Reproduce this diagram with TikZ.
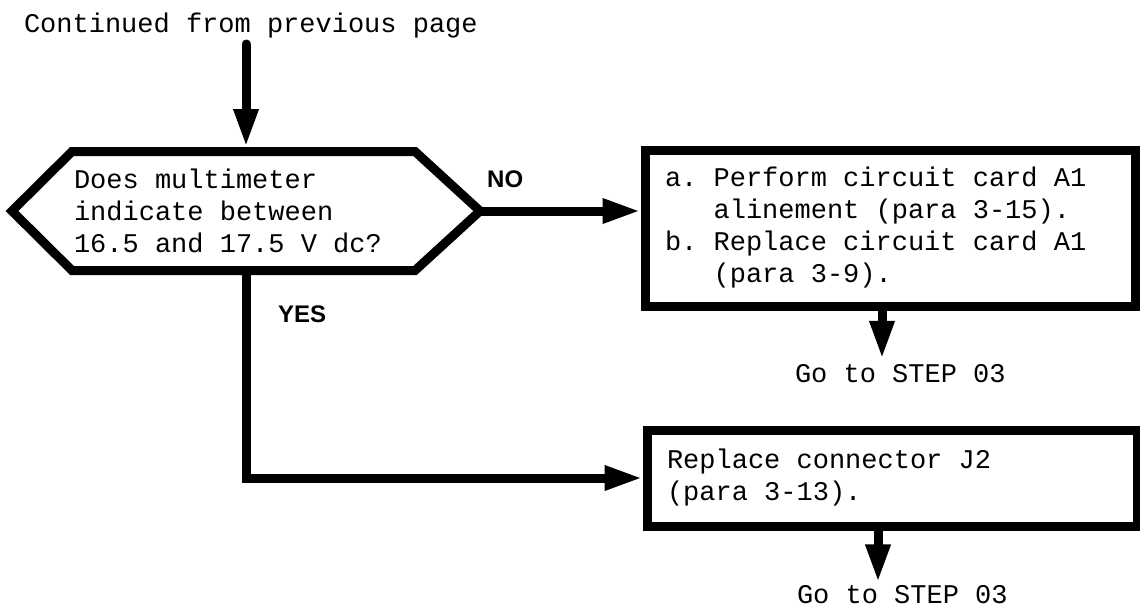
\documentclass[tikz,border=0pt]{standalone}
\usepackage{fontspec}
\usetikzlibrary{arrows.meta,calc}
\newfontfamily\monofnt{Liberation Mono}
\newfontfamily\labfnt{Liberation Sans}
\newcommand{\fixsp}{\spaceskip=0pt\xspaceskip=0pt\frenchspacing}
\tikzset{
  txt/.style={font=\monofnt\fontsize{27}{32}\selectfont, inner sep=0pt, outer sep=0pt},
  lab/.style={font=\labfnt\bfseries\fontsize{24}{28}\selectfont, inner sep=0pt},
  boxnode/.style={txt, draw=black, line width=9pt, line join=miter, align=left,
    text width=450pt, inner xsep=20pt, inner ysep=0pt, outer sep=4.5pt},
  outline/.style={draw=black, line width=9pt, line join=miter},
  flow/.style={draw=black, line width=9pt, line join=miter,
    -{Triangle[length=38pt,width=23pt]}},
}
\begin{document}
\begin{tikzpicture}[x=1pt,y=-1pt]
\useasboundingbox (0,0) rectangle (1140,611);
% top text
\node[txt, anchor=base west] (top) at (24,32) {Continued from previous page};
\coordinate (c0) at (246,44);
% decision hexagon
\node[txt, align=left, text width=344pt, minimum width=468pt, minimum height=119pt]
  (q) at (246,211) {\fixsp Does multimeter\\\fixsp indicate between\\\fixsp 16.5 and 17.5 V dc?};
\draw[outline] (q.west) -- ([xshift=60pt]q.north west) -- ([xshift=-65pt]q.north east)
  -- (q.east) -- ([xshift=-65pt]q.south east) -- ([xshift=60pt]q.south west) -- cycle;
% boxes
\node[boxnode, minimum width=490pt, minimum height=156pt] (b1) at (890,228)
  {\fixsp a. Perform circuit card A1\\\fixsp\hphantom{a.~}alinement (para 3-15).\\\fixsp b. Replace circuit card A1\\\fixsp\hphantom{a.~}(para 3-9).};
\node[boxnode, minimum width=486pt, minimum height=96pt] (b2) at (892,478)
  {\fixsp Replace connector J2\\\fixsp (para 3-13).};
% go to texts
\node[txt, anchor=base west] (g1) at (795,382) {Go to STEP 03};
\node[txt, anchor=base west] (g2) at (797,603) {Go to STEP 03};
% labels
\node[lab, anchor=base west] (no) at (487,187) {NO};
\node[lab, anchor=base west] (yes) at (278,322) {YES};
% connectors
\draw[flow, line cap=round, shorten >=4.5pt] (c0) -- (c0 |- q.north);
\draw[flow] (q.east) -- (q.east -| b1.west);
\draw[flow] (q.south) -- (q.south |- b2.west) -- (b2.west);
\draw[flow, shorten >=5pt] ([xshift=-8pt]b1.south) -- ([xshift=-8pt]b1.south |- g1.north);
\draw[flow, shorten >=2.5pt] ([xshift=-14pt]b2.south) -- ([xshift=-14pt]b2.south |- g2.north);
\end{tikzpicture}
\end{document}
